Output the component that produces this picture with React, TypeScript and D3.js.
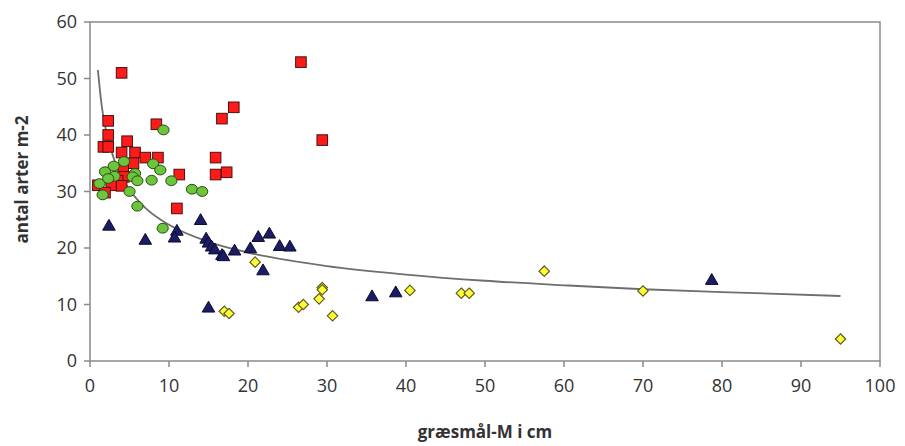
import React from "react";
import * as d3 from "d3";

// græsmål (cm) vs antal arter m-2, one array per marker series
const redSquares: [number, number][] = [
  [4.0, 51.0], [26.7, 52.9], [2.3, 42.5], [2.3, 40.0], [1.7, 37.9], [2.3, 37.9],
  [8.4, 41.9], [4.7, 38.9], [4.0, 36.9], [5.7, 36.9], [7.0, 36.0], [8.6, 36.0],
  [5.5, 35.0], [4.2, 33.9], [4.3, 32.6], [3.5, 31.9], [1.0, 31.1], [2.7, 31.1],
  [4.0, 31.0], [1.9, 29.8], [11.3, 33.0], [11.0, 27.0], [15.9, 36.0], [15.9, 33.0],
  [17.3, 33.4], [16.7, 42.9], [18.2, 44.9], [29.4, 39.1],
];

const greenCircles: [number, number][] = [
  [9.3, 40.9], [4.3, 35.3], [3.0, 34.5], [8.0, 34.9], [8.9, 33.8], [1.9, 33.5],
  [3.1, 32.7], [5.7, 33.2], [5.4, 32.6], [6.0, 31.9], [7.8, 32.0], [10.3, 31.9],
  [12.9, 30.4], [14.2, 30.0], [1.2, 31.4], [2.3, 32.3], [5.0, 30.0], [1.6, 29.4],
  [6.0, 27.4], [9.2, 23.5],
];

const navyTriangles: [number, number][] = [
  [2.4, 23.8], [7.0, 21.3], [14.0, 24.8], [11.0, 22.9], [10.7, 21.7], [14.7, 21.5],
  [15.0, 20.8], [15.4, 20.1], [15.8, 19.6], [16.7, 18.6], [16.9, 18.4], [18.3, 19.4],
  [20.3, 19.8], [21.3, 21.8], [22.7, 22.4], [24.0, 20.2], [25.3, 20.1], [21.9, 15.9],
  [15.0, 9.3], [35.7, 11.3], [38.7, 12.0], [78.7, 14.2],
];

const yellowDiamonds: [number, number][] = [
  [20.9, 17.5], [17.0, 8.8], [17.6, 8.4], [26.4, 9.5], [27.0, 10.0], [29.4, 13.0],
  [29.4, 12.6], [29.0, 11.0], [30.7, 8.0], [40.5, 12.5], [47.0, 12.0], [48.0, 12.0],
  [57.5, 15.9], [70.0, 12.4], [95.0, 3.9],
];

// trend line
const trendX = [1, 1.5, 2, 3, 4, 5, 7, 10, 15, 20, 30, 40, 50, 60, 70, 80, 95];
const trendY = [51.5, 45, 41, 35.9, 32.6, 30.3, 27.1, 24.1, 21.1, 19.2, 16.8, 15.3, 14.2, 13.4, 12.7, 12.2, 11.5];

const xTicks = [0, 10, 20, 30, 40, 50, 60, 70, 80, 90, 100];
const yTicks = [0, 10, 20, 30, 40, 50, 60];

const W = 905;
const H = 446;
const margin = { left: 90, right: 25, top: 22, bottom: 85 };
const font = "'Open Sans', 'Noto Sans', sans-serif";

export default function App() {
  const x = d3.scaleLinear().domain([0, 100]).range([margin.left, W - margin.right]);
  const y = d3.scaleLinear().domain([0, 60]).range([H - margin.bottom, margin.top]);

  const line = d3
    .line<number>()
    .x((d) => x(d))
    .y((_, i) => y(trendY[i]))
    .curve(d3.curveMonotoneX);

  const axisColor = "#8a8a8a";
  const tri = d3.symbol(d3.symbolTriangle, 68)();

  return (
    <svg
      width={W}
      height={H}
      style={{ position: "absolute", left: 0, top: 0, background: "#fff" }}
      fontFamily={font}
    >
      {/* plot frame */}
      <rect
        x={x(0)}
        y={y(60)}
        width={x(100) - x(0)}
        height={y(0) - y(60)}
        fill="none"
        stroke={axisColor}
        strokeWidth={1.5}
      />

      {/* y ticks */}
      {yTicks.map((t) => (
        <g key={`y${t}`}>
          <line x1={x(0) - 6} x2={x(0)} y1={y(t)} y2={y(t)} stroke={axisColor} strokeWidth={1.5} />
          <text x={x(0) - 13} y={y(t)} dy="0.36em" textAnchor="end" fontSize={18} fill="#333">
            {t}
          </text>
        </g>
      ))}

      {/* x ticks */}
      {xTicks.map((t) => (
        <g key={`x${t}`}>
          <line x1={x(t)} x2={x(t)} y1={y(0)} y2={y(0) + 6} stroke={axisColor} strokeWidth={1.5} />
          <text x={x(t)} y={y(0) + 31} textAnchor="middle" fontSize={18} fill="#333">
            {t}
          </text>
        </g>
      ))}

      {/* trend curve */}
      <path d={line(trendX) || ""} fill="none" stroke="#6e6e6e" strokeWidth={1.8} />

      {/* markers */}
      {redSquares.map(([a, b], i) => (
        <rect
          key={`r${i}`}
          x={x(a) - 5.3}
          y={y(b) - 5.3}
          width={10.6}
          height={10.6}
          fill="#ff1a1a"
          stroke="#4a1010"
          strokeWidth={1}
        />
      ))}
      {greenCircles.map(([a, b], i) => (
        <ellipse
          key={`g${i}`}
          cx={x(a)}
          cy={y(b)}
          rx={5.6}
          ry={4.9}
          fill="#6cc63c"
          stroke="#2a4a16"
          strokeWidth={1}
        />
      ))}
      {navyTriangles.map(([a, b], i) => (
        <path
          key={`n${i}`}
          d={tri || ""}
          transform={`translate(${x(a)},${y(b)})`}
          fill="#1c1c64"
          stroke="#0b0b30"
          strokeWidth={1}
        />
      ))}
      {yellowDiamonds.map(([a, b], i) => (
        <path
          key={`d${i}`}
          d="M0,-5.2L5.2,0L0,5.2L-5.2,0Z"
          transform={`translate(${x(a)},${y(b)})`}
          fill="#ffff33"
          stroke="#5c5c24"
          strokeWidth={1.2}
        />
      ))}

      {/* axis titles */}
      <text
        transform={`translate(28,${(y(0) + y(60)) / 2 - 12}) rotate(-90)`}
        textAnchor="middle"
        fontSize={17}
        fontWeight="bold"
        fill="#333"
      >
        antal arter m-2
      </text>
      <text
        x={(x(0) + x(100)) / 2}
        y={438}
        textAnchor="middle"
        fontSize={17}
        fontWeight="bold"
        fill="#333"
      >
        græsmål-M i cm
      </text>
    </svg>
  );
}
